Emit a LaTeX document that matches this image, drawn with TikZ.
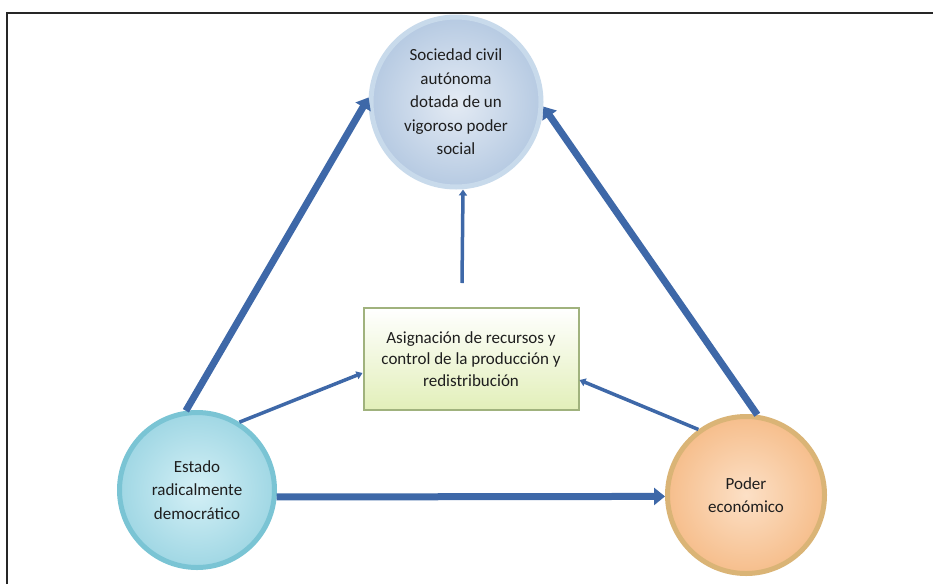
\documentclass[tikz,border=0pt]{standalone}
\usepackage{fontspec}
\setmainfont{Carlito}
\usepackage{tikz}
\usetikzlibrary{positioning,arrows.meta}
\definecolor{arrowblue}{RGB}{62,104,168}
\definecolor{textgray}{RGB}{30,30,30}
\tikzset{circ node/.style={circle,line width=5pt,align=center,text=textgray,
                font=\fontsize{17}{23.5}\selectfont,inner sep=0pt},
         soc node/.style={circ node,minimum size=170pt,draw={rgb,255:red,200;green,218;blue,235},
                inner color={rgb,255:red,228;green,235;blue,244},outer color={rgb,255:red,182;green,202;blue,226}},
         estado node/.style={circ node,minimum size=155pt,draw={rgb,255:red,122;green,196;blue,212},
                inner color={rgb,255:red,212;green,240;blue,246},outer color={rgb,255:red,160;green,215;blue,228}},
         poder node/.style={circ node,minimum size=157pt,draw={rgb,255:red,218;green,180;blue,118},
                inner color={rgb,255:red,252;green,224;blue,198},outer color={rgb,255:red,246;green,190;blue,140}},
         box node/.style={rectangle,draw={rgb,255:red,160;green,178;blue,125},line width=2pt,
                minimum width=215pt,minimum height=102pt,align=center,text=textgray,
                font=\fontsize{17}{21.5}\selectfont,
                top color=white,bottom color={rgb,255:red,226;green,239;blue,185}},
         thick arrow/.style={draw=arrowblue,line width=7pt,-{Triangle[length=11pt,width=17pt]}},
         thin arrow/.style={draw=arrowblue,line width=3.5pt,-{Triangle[length=6pt,width=8pt]}},
            }
\begin{document}
\begin{tikzpicture}[x=1pt,y=-1pt]
    \useasboundingbox (0,0) rectangle (933,584);
    \draw[line width=2pt,black!85] (7,584) -- (7,13) -- (933,13);

    \node[soc node] (sociedad) at (456,102) {Sociedad civil\\aut\'onoma\\dotada de un\\vigoroso poder\\social};
    \node[estado node] (estado) at (197,490) {Estado\\radicalmente\\democr\'atico};
    \node[poder node] (poder) at (746,495) {Poder\\econ\'omico};
    \node[box node] (box) at (471,359) {Asignaci\'on de recursos y\\control de la producci\'on y\\redistribuci\'on};

    \path
    (estado.98) edge[thick arrow] (sociedad.177)
    (poder.82) edge[thick arrow] (sociedad.357)
    (estado.-5) edge[thick arrow] (poder.181);

    \path
    (estado.58) edge[thin arrow] ([yshift=-14pt]box.west)
    (poder.126) edge[thin arrow] ([yshift=-21pt]box.east)
    ([xshift=-9pt,yshift=24pt]box.north) edge[thin arrow] ([xshift=7pt]sociedad.south);
\end{tikzpicture}
\end{document}
